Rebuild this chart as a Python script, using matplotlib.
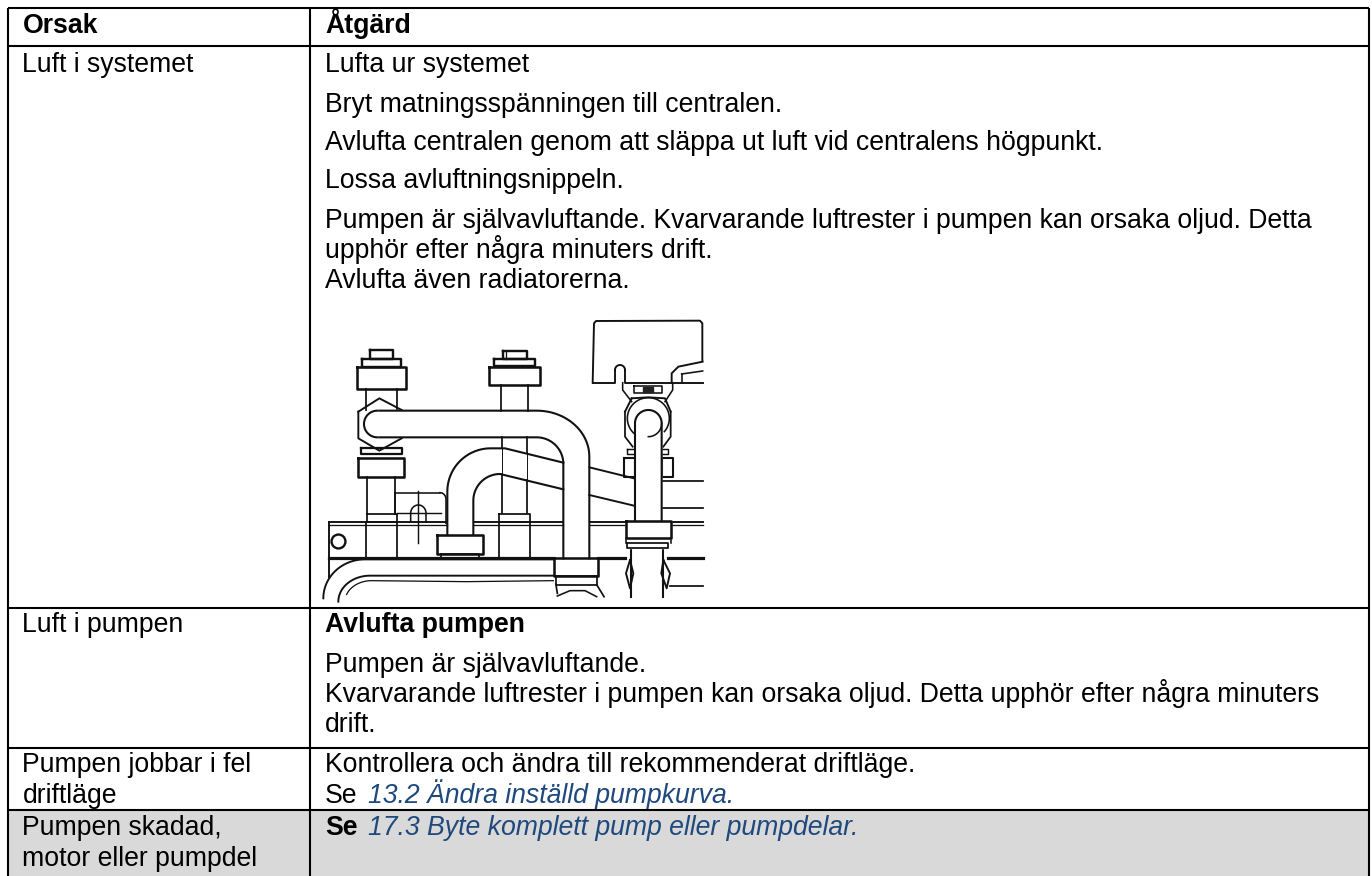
import numpy as np
import matplotlib
matplotlib.use('Agg')
import matplotlib.pyplot as plt
from matplotlib.patches import Rectangle

plt.rcParams['font.family'] = ['Liberation Sans', 'DejaVu Sans']

# tabellens rader och kolumner
col_x = [7.5, 310, 1369]
row_y = [7.5, 46, 607.5, 748, 810, 876]
fs = 19.13
link = '#1F497D'

cause_texts = [
    ('Orsak', 33, 'bold'),
    ('Luft i systemet', 72.5, 'normal'),
    ('Luft i pumpen', 632.5, 'normal'),
    ('Pumpen jobbar i fel', 772, 'normal'),
    ('driftläge', 803, 'normal'),
    ('Pumpen skadad,', 835, 'normal'),
    ('motor eller pumpdel', 866.5, 'normal'),
]
action_texts = [
    ('Åtgärd', 33, 'bold'),
    ('Lufta ur systemet', 72.5, 'normal'),
    ('Bryt matningsspänningen till centralen.', 111.5, 'normal'),
    ('Avlufta centralen genom att släppa ut luft vid centralens högpunkt.', 150.5, 'normal'),
    ('Lossa avluftningsnippeln.', 188.5, 'normal'),
    ('Pumpen är självavluftande. Kvarvarande luftrester i pumpen kan orsaka oljud. Detta', 227.5, 'normal'),
    ('upphör efter några minuters drift.', 257.5, 'normal'),
    ('Avlufta även radiatorerna.', 288, 'normal'),
    ('Avlufta pumpen', 632.5, 'bold'),
    ('Pumpen är självavluftande.', 671.5, 'normal'),
    ('Kvarvarande luftrester i pumpen kan orsaka oljud. Detta upphör efter några minuters', 701.5, 'normal'),
    ('drift.', 732.5, 'normal'),
    ('Kontrollera och ändra till rekommenderat driftläge.', 772, 'normal'),
    ('Se', 803, 'normal'),
    ('Se', 835, 'bold'),
]
link_texts = [
    ('13.2 Ändra inställd pumpkurva.', 803),
    ('17.3 Byte komplett pump eller pumpdelar.', 835),
]

fig = plt.figure(figsize=(13.72, 8.76), dpi=100)
ax = fig.add_axes([0, 0, 1, 1])
ax.set_xlim(0, 1372)
ax.set_ylim(876, 0)
ax.axis('off')

# grå sista raden
ax.add_patch(Rectangle((col_x[0], row_y[4]), col_x[2] - col_x[0], row_y[5] - row_y[4],
                       facecolor='#D9D9D9', edgecolor='none', zorder=0))

# ramar
for y in row_y[:-1]:
    ax.plot([col_x[0], col_x[2]], [y, y], color='black', lw=1.5, solid_capstyle='butt')
for x in col_x:
    ax.plot([x, x], [row_y[0], row_y[-1]], color='black', lw=1.5, solid_capstyle='butt')

for s, y, w in cause_texts:
    ax.text(22.5, y, s, fontsize=fs, fontweight=w, va='baseline', color='black')
for s, y, w in action_texts:
    ax.text(325, y, s, fontsize=fs, fontweight=w, va='baseline', color='black')
for s, y in link_texts:
    ax.text(367.5, y, s, fontsize=fs, style='italic', va='baseline', color=link)


# ritningen: koordinaterna är lästa i 3x-bilden
def Z(p):
    p = np.array(p, dtype=float)
    return 320 + p[:, 0] / 3, 310 + p[:, 1] / 3


def ln(p, lw=1.1, z=3):
    x, y = Z(p)
    ax.plot(x, y, color='#111111', lw=lw * 1.15, zorder=z, solid_joinstyle='round')


def box(x0, y0, x1, y1, lw=1.5, z=3):
    x, y = Z([(x0, y0), (x1, y0), (x1, y1), (x0, y1), (x0, y0)])
    ax.fill(x, y, color='white', zorder=z - 0.5)
    ax.plot(x, y, color='#111111', lw=lw * 1.15, zorder=z)


def arc(cx, cy, rx, ry, a0, a1):
    t = np.radians(np.linspace(a0, a1, 40))
    return list(zip(cx + rx * np.cos(t), cy + ry * np.sin(t)))


# skena
ln([(28, 635), (380, 635)], 1.2)
ln([(462, 635), (730, 635)], 1.2)
ln([(810, 635), (915, 635)], 1.2)
ln([(28, 645), (380, 645)], 0.8)
ln([(462, 645), (730, 645)], 0.8)
ln([(810, 645), (915, 645)], 0.8)
ln([(1030, 635), (1148, 635)], 1.2)
ln([(1030, 645), (1148, 645)], 0.8)
ln([(28, 635), (28, 800)], 1.2)
ln([(28, 745), (700, 745)], 2)
ln([(835, 745), (915, 745)], 2)
ln([(1045, 745), (1148, 745)], 2)
x, y = Z([(55, 692)])
ax.plot(x, y, 'o', ms=10, mfc='white', mec='#111111', mew=1.7, zorder=3)

# stigare under skenan
for xx in [138, 230, 538, 630]:
    ln([(xx, 640), (xx, 742)], 1.1)

# nedre rör
ln(arc(135, 865, 125, 117, 180, 270) + [(700, 748)], 1.2)
ln(arc(150, 875, 95, 78, 180, 270) + [(700, 797)], 1.2)
ln(arc(155, 875, 80, 63, 200, 270) + [(440, 815), (700, 812)], 0.8)

# vänster ventil
box(150, 120, 218, 146)
box(125, 147, 243, 170)
box(110, 172, 258, 237, 1.6)
ln([(137, 237), (137, 300)])
ln([(232, 237), (232, 298)])
ln([(115, 305), (178, 265), (245, 300)], 1.2)
ln([(115, 305), (115, 385), (178, 422), (245, 385)], 1.2)
box(122, 415, 245, 432, 1.4)
box(115, 443, 252, 500, 1.6)
ln([(142, 500), (142, 612)])
ln([(226, 500), (226, 612)])
box(140, 612, 230, 635, 1.1)

# mittenventil
box(548, 122, 620, 146)
ln([(558, 122), (558, 146)], 0.8)
box(522, 148, 645, 168)
box(507, 170, 660, 225, 1.6)
ln([(543, 225), (543, 302)])
ln([(625, 225), (625, 302)])
ln([(545, 382), (545, 415)])
ln([(622, 382), (622, 425)])
ln([(545, 492), (545, 610)])
ln([(622, 510), (622, 610)])
ln([(545, 415), (545, 492)], 0.6)
ln([(622, 425), (622, 510)], 0.6)
box(538, 612, 630, 635, 1.1)

# fäste
ln(arc(360, 568, 18, 20, -90, 0) + [(378, 640)], 1.0)
ln([(225, 548), (360, 548)], 1.0)
ln([(225, 548), (225, 612)], 1.0)
ln([(295, 543), (295, 698)], 0.9)
ln([(232, 608), (362, 608)], 0.9)
ln([(272, 635)] + arc(295, 610, 23, 25, 180, 360) + [(318, 635)], 1.0)

# stora böjen
ln(arc(172, 342, 40, 40, 90, 270), 1.3)
ln([(178, 302), (650, 302)] + arc(650, 440, 158, 138, -90, 0) + [(808, 745)], 1.3)
ln([(178, 382), (650, 382)] + arc(650, 462, 80, 80, -90, 0) + [(730, 745)], 1.3)

# andra böjen
ln([(382, 672)] + arc(512, 545, 130, 130, 180, 270) + [(555, 415), (730, 458)], 1.3)
ln([(460, 672)] + arc(540, 572, 80, 80, 180, 270) + [(730, 538)], 1.3)
ln([(808, 472), (942, 505)], 1.2)
ln([(808, 555), (942, 587)], 1.2)
box(352, 675, 488, 732, 1.6)
box(362, 732, 478, 745, 1.1)

# höger ventil, låda
ln([(818, 218), (822, 40), (828, 33), (1140, 32), (1147, 40), (1147, 150)], 1.2)
ln([(818, 218), (885, 218), (885, 180)], 1.2)
ln(arc(900, 180, 15, 15, 180, 360), 1.2)
ln([(915, 180), (915, 218), (1148, 218)], 1.2)
ln([(1148, 155), (1075, 170), (1055, 190), (1055, 218)], 1.2)
ln([(1085, 192), (1148, 183)], 1.0)
ln([(1085, 192), (1085, 218)], 1.0)

# höger ventil, hals
ln([(908, 218), (908, 240), (935, 275)], 1.0)
ln([(1058, 218), (1058, 240), (1035, 275)], 1.0)
box(943, 228, 1025, 248, 1.0)
x, y = Z([(970, 231), (1000, 231), (1000, 246), (970, 246)])
ax.fill(x, y, color='#222222', zorder=4)
ln(arc(985, 325, 63, 62, 130, 400), 1.0)
ln([(915, 305), (915, 380), (938, 410)], 1.1)
ln([(1052, 305), (1052, 380), (1030, 410)], 1.1)
ln([(935, 265), (985, 262), (1035, 265), (1052, 305)], 1.2)
ln([(935, 265), (915, 305)], 1.2)
box(922, 418, 1045, 432, 0.9)
box(912, 445, 945, 500, 1.3)
box(1025, 445, 1058, 500, 1.3)
ln([(1027, 513), (1148, 513)], 1.1)
ln([(1027, 593), (1148, 593)], 1.1)
x, y = Z([(945, 630), (945, 340)] + arc(985, 340, 40, 40, 180, 360) + [(1025, 630)])
ax.fill(x, y, color='white', zorder=3.5)
ax.plot(x, y, color='#111111', lw=1.5, zorder=4)
ln(arc(985, 340, 40, 40, 0, 90), 1.0, 4)
box(917, 632, 1052, 685, 1.6, 4)
box(922, 700, 1045, 715, 1.1, 4)
ln([(917, 685), (917, 700)], 1.0)
ln([(1052, 685), (1052, 700)], 1.0)
ln([(933, 715), (933, 862)], 1.3)
ln([(1030, 715), (1030, 862)], 1.3)
ln([(930, 750), (918, 790), (930, 835), (940, 790), (930, 750)], 1.2)
ln([(1030, 750), (1050, 790), (1040, 835), (1024, 790), (1030, 750)], 1.2)
ln([(1050, 828), (1148, 828)], 1.1)

# nedre mutter
box(702, 745, 835, 798, 1.6)
box(708, 798, 830, 824, 1.1)
ln([(708, 824), (712, 850)], 1.1)
ln([(830, 824), (852, 860)], 1.1)
ln([(712, 858), (750, 842), (795, 842), (830, 860)], 1.0)

fig.savefig('out.png', dpi=100)
